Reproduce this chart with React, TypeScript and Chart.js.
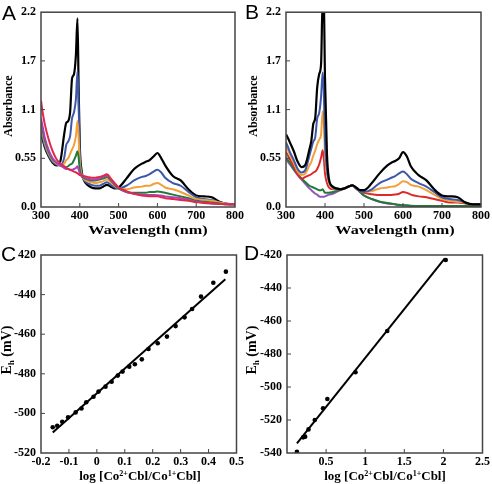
import React, { useEffect, useRef } from 'react';
import { Chart, registerables } from 'chart.js';

Chart.register(...registerables);

// ---------- Data ----------
const WAVELENGTHS = [300, 305, 310, 320, 330, 340, 350, 360, 365, 370, 375, 380, 385, 390, 394, 397, 400, 405, 410, 420, 430, 440, 450, 460, 470, 480, 490, 500, 520, 540, 560, 570, 580, 590, 600, 610, 620, 640, 660, 680, 700, 720, 740, 760, 780, 800];

// Panel A spectra
const A_BLACK = [0.83, 0.75, 0.67, 0.57, 0.50, 0.47, 0.52, 0.83, 0.95, 0.97, 1.07, 1.45, 1.50, 1.72, 2.13, 1.35, 0.69, 0.40, 0.31, 0.25, 0.22, 0.21, 0.21, 0.23, 0.25, 0.23, 0.21, 0.22, 0.32, 0.43, 0.49, 0.51, 0.53, 0.57, 0.61, 0.55, 0.47, 0.35, 0.30, 0.20, 0.13, 0.12, 0.11, 0.06, 0.035, 0.03];
const A_BLUE = [0.86, 0.77, 0.69, 0.58, 0.51, 0.48, 0.47, 0.56, 0.70, 0.74, 0.80, 1.00, 1.07, 1.22, 1.53, 1.15, 0.60, 0.38, 0.31, 0.27, 0.25, 0.24, 0.24, 0.26, 0.28, 0.25, 0.22, 0.21, 0.24, 0.30, 0.34, 0.35, 0.37, 0.40, 0.42, 0.39, 0.33, 0.27, 0.24, 0.17, 0.11, 0.09, 0.08, 0.05, 0.035, 0.03];
const A_ORANGE = [0.92, 0.82, 0.72, 0.60, 0.53, 0.49, 0.47, 0.49, 0.53, 0.55, 0.60, 0.65, 0.70, 0.80, 0.97, 0.78, 0.50, 0.36, 0.32, 0.29, 0.28, 0.27, 0.28, 0.29, 0.31, 0.28, 0.24, 0.21, 0.20, 0.22, 0.23, 0.24, 0.24, 0.26, 0.27, 0.25, 0.22, 0.20, 0.17, 0.13, 0.09, 0.08, 0.07, 0.05, 0.035, 0.03];
const A_GREEN = [0.96, 0.85, 0.75, 0.62, 0.54, 0.50, 0.47, 0.45, 0.45, 0.46, 0.48, 0.49, 0.53, 0.58, 0.63, 0.56, 0.42, 0.35, 0.33, 0.31, 0.30, 0.30, 0.31, 0.32, 0.34, 0.30, 0.25, 0.21, 0.17, 0.16, 0.16, 0.16, 0.17, 0.17, 0.175, 0.17, 0.16, 0.14, 0.12, 0.10, 0.07, 0.06, 0.05, 0.04, 0.03, 0.03];
const A_MAGENTA = [1.00, 0.89, 0.78, 0.64, 0.55, 0.50, 0.47, 0.44, 0.43, 0.43, 0.42, 0.42, 0.43, 0.44, 0.46, 0.42, 0.38, 0.35, 0.34, 0.32, 0.31, 0.31, 0.32, 0.34, 0.36, 0.31, 0.26, 0.22, 0.17, 0.15, 0.14, 0.135, 0.135, 0.135, 0.134, 0.13, 0.12, 0.11, 0.10, 0.08, 0.06, 0.05, 0.04, 0.035, 0.03, 0.03];
const A_RED = [1.20, 1.05, 0.93, 0.76, 0.63, 0.54, 0.49, 0.46, 0.44, 0.43, 0.42, 0.41, 0.40, 0.39, 0.38, 0.37, 0.36, 0.355, 0.35, 0.34, 0.33, 0.33, 0.34, 0.35, 0.37, 0.32, 0.27, 0.22, 0.18, 0.15, 0.13, 0.125, 0.12, 0.12, 0.12, 0.11, 0.10, 0.09, 0.08, 0.07, 0.055, 0.045, 0.04, 0.035, 0.03, 0.03];

// Panel B spectra
const B_BLACK = [0.82, 0.78, 0.73, 0.63, 0.51, 0.45, 0.48, 0.65, 0.75, 0.94, 1.01, 1.35, 1.50, 1.62, 2.35, 2.30, 1.45, 0.60, 0.32, 0.23, 0.21, 0.20, 0.21, 0.23, 0.245, 0.22, 0.19, 0.19, 0.27, 0.38, 0.47, 0.50, 0.52, 0.55, 0.62, 0.57, 0.46, 0.36, 0.30, 0.20, 0.13, 0.12, 0.11, 0.05, 0.03, 0.03];
const B_BLUE = [0.73, 0.68, 0.62, 0.53, 0.43, 0.39, 0.42, 0.58, 0.66, 0.74, 0.79, 1.00, 1.06, 1.25, 1.52, 1.30, 0.75, 0.42, 0.29, 0.22, 0.20, 0.20, 0.21, 0.23, 0.245, 0.21, 0.18, 0.17, 0.20, 0.27, 0.31, 0.33, 0.35, 0.38, 0.40, 0.37, 0.32, 0.27, 0.23, 0.17, 0.11, 0.09, 0.08, 0.05, 0.03, 0.03];
const B_ORANGE = [0.68, 0.64, 0.59, 0.50, 0.40, 0.36, 0.38, 0.47, 0.51, 0.58, 0.64, 0.71, 0.76, 0.82, 1.08, 0.95, 0.60, 0.38, 0.27, 0.21, 0.20, 0.20, 0.21, 0.23, 0.245, 0.21, 0.18, 0.17, 0.18, 0.21, 0.22, 0.23, 0.235, 0.26, 0.29, 0.28, 0.25, 0.23, 0.19, 0.14, 0.09, 0.07, 0.06, 0.05, 0.03, 0.03];
const B_RED = [0.62, 0.58, 0.54, 0.46, 0.37, 0.32, 0.34, 0.36, 0.37, 0.39, 0.40, 0.43, 0.48, 0.56, 0.64, 0.55, 0.38, 0.27, 0.22, 0.20, 0.20, 0.20, 0.21, 0.23, 0.245, 0.21, 0.18, 0.16, 0.145, 0.135, 0.135, 0.135, 0.14, 0.15, 0.17, 0.16, 0.14, 0.12, 0.11, 0.09, 0.07, 0.05, 0.05, 0.04, 0.03, 0.03];
const B_GREEN = [0.56, 0.53, 0.50, 0.43, 0.37, 0.32, 0.28, 0.24, 0.23, 0.22, 0.21, 0.20, 0.19, 0.19, 0.20, 0.18, 0.16, 0.16, 0.16, 0.17, 0.18, 0.20, 0.21, 0.23, 0.245, 0.21, 0.17, 0.13, 0.09, 0.06, 0.045, 0.04, 0.03, 0.025, 0.02, 0.02, 0.015, 0.01, 0.01, 0.01, 0.01, 0.01, 0.01, 0.01, 0.01, 0.01];
const B_PURPLE = [0.54, 0.51, 0.48, 0.42, 0.36, 0.31, 0.26, 0.21, 0.19, 0.17, 0.15, 0.14, 0.12, 0.115, 0.115, 0.115, 0.12, 0.13, 0.14, 0.15, 0.17, 0.19, 0.21, 0.23, 0.245, 0.21, 0.17, 0.13, 0.09, 0.06, 0.04, 0.035, 0.03, 0.02, 0.02, 0.015, 0.01, 0.01, 0.005, 0.005, 0.005, 0.005, 0.005, 0.005, 0.005, 0.005];

// Spectra axes
const SPEC_X_MIN = 300;
const SPEC_X_MAX = 800;
const SPEC_Y_TICKS = [0, 0.55, 1.1, 1.65, 2.2];
const SPEC_Y_LABELS = ['0.0', '0.55', '1.1', '1.7', '2.2'];

// Panel C: Nernst plot
const C_LOGRATIO = [-0.158, -0.142, -0.124, -0.103, -0.076, -0.055, -0.038, -0.012, 0.006, 0.031, 0.053, 0.075, 0.092, 0.116, 0.136, 0.161, 0.185, 0.218, 0.251, 0.282, 0.314, 0.341, 0.373, 0.417, 0.462];
const C_EH = [-507.0, -506.2, -504.2, -502.0, -499.5, -497.5, -494.4, -491.6, -489.0, -486.5, -484.0, -480.9, -478.9, -476.4, -475.2, -472.7, -467.5, -464.6, -461.2, -455.9, -451.5, -447.3, -441.0, -434.0, -428.4];
const C_FIT_X = [-0.158, 0.46];
const C_FIT_Y = [-509.7, -432.3];

// Panel D: Nernst plot
const D_LOGRATIO = [0.127, 0.207, 0.232, 0.275, 0.355, 0.461, 0.516, 0.876, 1.282, 2.03];
const D_EH = [-539.2, -530.5, -530.1, -525.7, -520.0, -512.9, -507.3, -491.1, -466.1, -423.0];
const D_FIT_X = [0.127, 2.018];
const D_FIT_Y = [-534.1, -422.0];

// ---------- Styling ----------
const SERIF = '"Liberation Serif", "Times New Roman", serif';
const SANS = '"Liberation Sans", Arial, sans-serif';

const framePlugin = {
  id: 'frameTicks',
  afterDraw(chart: any) {
    const { ctx, chartArea: a } = chart;
    ctx.save();
    ctx.strokeStyle = '#444444';
    ctx.lineWidth = 1;
    const xs = chart.scales.x;
    const ys = chart.scales.y;
    ctx.beginPath();
    xs.ticks.forEach((t: any) => {
      const p = xs.getPixelForValue(t.value);
      if (p > a.left + 1 && p < a.right - 1) {
        ctx.moveTo(p, a.bottom);
        ctx.lineTo(p, a.bottom - 4);
      }
    });
    ys.ticks.forEach((t: any) => {
      const p = ys.getPixelForValue(t.value);
      if (p > a.top + 1 && p < a.bottom - 1) {
        ctx.moveTo(a.left, p);
        ctx.lineTo(a.left + 4, p);
      }
    });
    ctx.stroke();
    ctx.lineWidth = 1.5;
    ctx.strokeRect(a.left, a.top, a.right - a.left, a.bottom - a.top);
    ctx.restore();
  },
};

type Frame = { left: number; top: number; right: number; xh: number };

function makeOptions(f: Frame, x: any, y: any) {
  const tickFont = { family: SERIF, size: 12, weight: 'bold' as const };
  return {
    animation: false,
    responsive: false,
    maintainAspectRatio: false,
    devicePixelRatio: 1,
    events: [],
    layout: { autoPadding: false, padding: { top: f.top, right: f.right, left: 0, bottom: 0 } },
    plugins: { legend: { display: false }, tooltip: { enabled: false }, title: { display: false } },
    scales: {
      x: {
        type: 'linear',
        ...x,
        grid: { display: false, drawTicks: false },
        border: { display: false },
        ticks: { ...(x.ticks || {}), font: tickFont, color: '#000', padding: 2, maxRotation: 0, autoSkip: false },
        afterFit: (s: any) => { s.height = f.xh; },
      },
      y: {
        type: 'linear',
        ...y,
        grid: { display: false, drawTicks: false },
        border: { display: false },
        ticks: { ...(y.ticks || {}), font: tickFont, color: '#000', padding: 5, autoSkip: false },
        afterFit: (s: any) => { s.width = f.left; },
      },
    },
  };
}

function spectrum(values: number[], color: string, width = 2) {
  return {
    data: WAVELENGTHS.map((w, i) => ({ x: w, y: values[i] })),
    borderColor: color,
    borderWidth: width,
    pointRadius: 0,
    showLine: true,
    cubicInterpolationMode: 'monotone',
    clip: 0,
  };
}

function pts(xs: number[], ys: number[]) {
  return xs.map((x, i) => ({ x, y: ys[i] }));
}

function specAxes() {
  const x = { min: SPEC_X_MIN, max: SPEC_X_MAX, ticks: { stepSize: 100 } };
  const y = {
    min: 0,
    max: 2.2,
    afterBuildTicks: (s: any) => { s.ticks = SPEC_Y_TICKS.map((v) => ({ value: v })); },
    ticks: { callback: (v: number) => { const i = SPEC_Y_TICKS.indexOf(v); return i >= 0 ? SPEC_Y_LABELS[i] : ''; } },
  };
  return { x, y };
}

function nernstDatasets(px: number[], py: number[], fx: number[], fy: number[]) {
  return [
    { data: pts(px, py), pointRadius: 2.3, pointBackgroundColor: '#000', pointBorderWidth: 0, showLine: false, clip: 0 },
    { data: pts(fx, fy), borderColor: '#000', borderWidth: 2, pointRadius: 0, showLine: true, clip: 0 },
  ];
}

const PANELS = [
  { key: 'A', left: 0, top: 0 },
  { key: 'B', left: 246, top: 0 },
  { key: 'C', left: 0, top: 242 },
  { key: 'D', left: 246, top: 242 },
];

export default function App() {
  const refs = [useRef<HTMLCanvasElement>(null), useRef<HTMLCanvasElement>(null), useRef<HTMLCanvasElement>(null), useRef<HTMLCanvasElement>(null)];

  useEffect(() => {
    Chart.defaults.font.family = SERIF;
    const charts: Chart[] = [];
    const sa = specAxes();
    const sb = specAxes();

    charts.push(new Chart(refs[0].current as HTMLCanvasElement, {
      type: 'scatter',
      data: {
        datasets: [
          spectrum(A_RED, '#e0284e'),
          spectrum(A_MAGENTA, '#a844b4'),
          spectrum(A_GREEN, '#24793a'),
          spectrum(A_ORANGE, '#f2a03c'),
          spectrum(A_BLUE, '#3d58a8'),
          spectrum(A_BLACK, '#000000', 2.2),
        ] as any,
      },
      options: makeOptions({ left: 41, top: 10, right: 8, xh: 35 }, sa.x, sa.y) as any,
      plugins: [framePlugin],
    }));

    charts.push(new Chart(refs[1].current as HTMLCanvasElement, {
      type: 'scatter',
      data: {
        datasets: [
          spectrum(B_BLACK, '#000000', 2.2),
          spectrum(B_BLUE, '#3d58a8'),
          spectrum(B_ORANGE, '#f2a03c'),
          spectrum(B_RED, '#dc2a2a'),
          spectrum(B_GREEN, '#24793a'),
          spectrum(B_PURPLE, '#8d58b8'),
        ] as any,
      },
      options: makeOptions({ left: 40, top: 10, right: 9, xh: 35 }, sb.x, sb.y) as any,
      plugins: [framePlugin],
    }));

    charts.push(new Chart(refs[2].current as HTMLCanvasElement, {
      type: 'scatter',
      data: { datasets: nernstDatasets(C_LOGRATIO, C_EH, C_FIT_X, C_FIT_Y) as any },
      options: makeOptions(
        { left: 41, top: 13, right: 8, xh: 31 },
        { min: -0.2, max: 0.5, ticks: { stepSize: 0.1, callback: (v: number) => { const r = Math.round(v * 10) / 10; return r === 0 ? '0' : r.toFixed(1); } } },
        { min: -520, max: -420, ticks: { stepSize: 20, callback: (v: number) => (v === -420 ? '420' : String(v)) } },
      ) as any,
      plugins: [framePlugin],
    }));

    charts.push(new Chart(refs[3].current as HTMLCanvasElement, {
      type: 'scatter',
      data: { datasets: nernstDatasets(D_LOGRATIO, D_EH, D_FIT_X, D_FIT_Y) as any },
      options: makeOptions(
        { left: 41, top: 13, right: 9, xh: 31 },
        { min: 0, max: 2.5, ticks: { stepSize: 0.5, callback: (v: number) => (v === 0 ? '' : String(Math.round(v * 10) / 10)) } },
        { min: -540, max: -420, ticks: { stepSize: 20, callback: (v: number) => String(v) } },
      ) as any,
      plugins: [framePlugin],
    }));

    return () => { charts.forEach((c) => c.destroy()); };
  }, []);

  const title: React.CSSProperties = {
    position: 'absolute',
    fontFamily: SERIF,
    fontWeight: 'bold',
    color: '#000',
    whiteSpace: 'nowrap',
    lineHeight: '14px',
    pointerEvents: 'none',
  };
  const letter: React.CSSProperties = {
    position: 'absolute',
    fontFamily: SANS,
    fontSize: 21,
    lineHeight: '21px',
    color: '#000',
    pointerEvents: 'none',
  };
  const sup: React.CSSProperties = { fontSize: '0.62em', verticalAlign: '0.55em', lineHeight: 0 };
  const sub: React.CSSProperties = { fontSize: '0.62em', verticalAlign: '-0.3em', lineHeight: 0 };

  const logTitle = (
    <>log [Co<span style={sup}>2+</span>Cbl/Co<span style={sup}>1+</span>Cbl]</>
  );
  const ehTitle = (
    <>E<span style={sub}>h</span> (mV)</>
  );

  return (
    <div style={{ position: 'absolute', left: 0, top: 0, width: 492, height: 484, background: '#fff', overflow: 'hidden' }}>
      {PANELS.map((p, i) => (
        <div key={p.key} style={{ position: 'absolute', left: p.left, top: p.top, width: 246, height: 242 }}>
          <canvas ref={refs[i]} width={246} height={242} style={{ display: 'block' }} />
        </div>
      ))}

      <div style={{ ...title, fontSize: 12, left: 148, top: 230, transform: 'translate(-50%, -50%) scaleX(1.35)' }}>Wavelength (nm)</div>
      <div style={{ ...title, fontSize: 12, left: 395, top: 230, transform: 'translate(-50%, -50%) scaleX(1.35)' }}>Wavelength (nm)</div>
      <div style={{ ...title, fontSize: 12, left: 8, top: 106, transform: 'translate(-50%, -50%) rotate(-90deg)' }}>Absorbance</div>
      <div style={{ ...title, fontSize: 12, left: 253, top: 106, transform: 'translate(-50%, -50%) rotate(-90deg)' }}>Absorbance</div>

      <div style={{ ...title, fontSize: 13, left: 140, top: 476, transform: 'translate(-50%, -50%)' }}>{logTitle}</div>
      <div style={{ ...title, fontSize: 13, left: 385, top: 476, transform: 'translate(-50%, -50%)' }}>{logTitle}</div>
      <div style={{ ...title, fontSize: 14, left: 7, top: 350, transform: 'translate(-50%, -50%) rotate(-90deg)' }}>{ehTitle}</div>
      <div style={{ ...title, fontSize: 14, left: 252, top: 350, transform: 'translate(-50%, -50%) rotate(-90deg)' }}>{ehTitle}</div>

      <div style={{ ...letter, left: 2, top: 2 }}>A</div>
      <div style={{ ...letter, left: 245, top: 1 }}>B</div>
      <div style={{ ...letter, left: 1, top: 243 }}>C</div>
      <div style={{ ...letter, left: 244, top: 242 }}>D</div>
    </div>
  );
}
